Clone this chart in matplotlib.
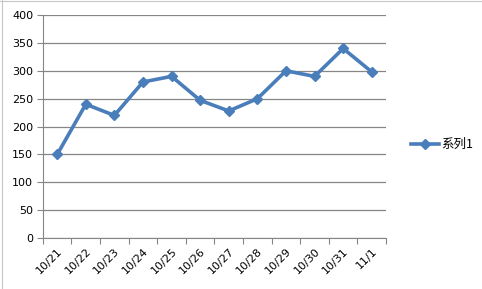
import matplotlib.pyplot as plt
from matplotlib.lines import Line2D

plt.rcParams['font.family'] = ['Noto Sans CJK SC', 'DejaVu Sans']

# chart data
dates = ['10/21', '10/22', '10/23', '10/24', '10/25', '10/26',
         '10/27', '10/28', '10/29', '10/30', '10/31', '11/1']
values = [150, 240, 220, 280, 290, 247, 228, 250, 300, 290, 340, 298]
yticks = [0, 50, 100, 150, 200, 250, 300, 350, 400]
series_name = '系列1'

blue = '#4A7EBB'
grid_gray = '#868686'

fig = plt.figure(figsize=(4.82, 2.89), dpi=100)
ax = fig.add_axes([0.089, 0.176, 0.712, 0.772])

x = list(range(len(dates)))
ax.plot(x, values, color=blue, lw=2.6, marker='D', ms=5.5,
        mec=blue, mfc=blue, zorder=3)

ax.set_ylim(0, 400)
ax.set_yticks(yticks)
ax.set_xlim(-0.5, len(dates) - 0.5)

# category boundaries get the tick marks, labels sit in the middle
ax.set_xticks([i - 0.5 for i in range(len(dates) + 1)])
ax.set_xticklabels([])
ax.set_xticks(x, minor=True)
ax.set_xticklabels(dates, minor=True, rotation=45, ha='right',
                   rotation_mode='anchor', fontsize=8,
                   family='DejaVu Sans')
ax.tick_params(axis='x', which='minor', length=0, pad=6)
ax.tick_params(axis='x', which='major', length=4, color=grid_gray,
               direction='out')
ax.tick_params(axis='y', length=4, color=grid_gray, labelsize=8, pad=3)
for lab in ax.get_yticklabels():
    lab.set_family('DejaVu Sans')

ax.grid(axis='y', color=grid_gray, lw=0.9)
ax.set_axisbelow(True)
for side in ['top', 'right']:
    ax.spines[side].set_visible(False)
ax.spines['left'].set_color(grid_gray)
ax.spines['bottom'].set_color(grid_gray)

handle = Line2D([], [], color=blue, lw=2.6, marker='D', ms=5.5)
fig.legend([handle], [series_name], loc='center left',
           bbox_to_anchor=(0.83, 0.50), frameon=False, fontsize=9,
           handlelength=2.2, handletextpad=0.2)

# faint spreadsheet cell lines around the edge
fig.add_artist(Line2D([0, 1], [0.997, 0.997], color='#c8c8c8', lw=0.8))
fig.add_artist(Line2D([0.004, 0.004], [0, 1], color='#c8c8c8', lw=0.8))

fig.savefig('out.png', dpi=100)
